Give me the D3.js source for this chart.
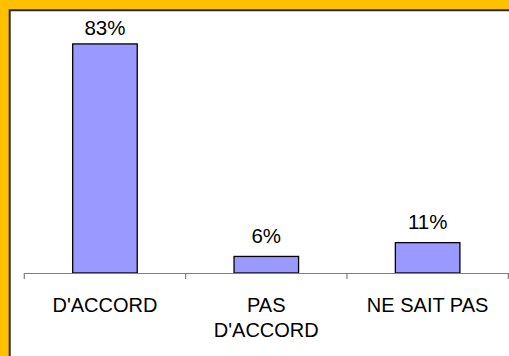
<!DOCTYPE html>
<html><head><meta charset="utf-8">
<script src="https://cdn.jsdelivr.net/npm/d3@7"></script>
<style>html,body{margin:0;padding:0;background:#fff;overflow:hidden}</style>
</head><body>
<svg id="c" width="509" height="356"></svg>
<script>
const categories = [["D'ACCORD"], ["PAS", "D'ACCORD"], ["NE SAIT PAS"]];
const values = [83, 6, 11];
const valueLabels = ["83%", "6%", "11%"];

const W = 509, H = 356;
const svg = d3.select("#c");
svg.append("rect").attr("x",0).attr("y",0).attr("width",W).attr("height",H).attr("fill","#FFC000");
svg.append("rect").attr("x",9.5).attr("y",10.5).attr("width",W).attr("height",H).attr("fill","#fff");
svg.append("path").attr("d",`M9.7,${H} V10.2 H${W}`).attr("fill","none").attr("stroke","#2a2a2a").attr("stroke-width",2);

const plotTop = 20, baseY = 273;
const x = d3.scaleBand().domain(d3.range(values.length)).range([24.3, 508.3]).paddingInner(0.6).paddingOuter(0.3);
const y = d3.scaleLinear().domain([0, 90]).range([baseY, baseY - 90*2.76]);

const g = svg.append("g");
g.selectAll("rect.bar").data(values).join("rect").attr("class","bar")
  .attr("x",(d,i)=>x(i)).attr("width",x.bandwidth())
  .attr("y",d=>y(d)).attr("height",d=>baseY-y(d))
  .attr("fill","#9999FF").attr("stroke","#000").attr("stroke-width",1.3);

// axis
const step = x.step();
const xa = d3.scaleLinear().domain([0, values.length]).range([24.3, 508.3]);
g.append("line").attr("x1",xa(0)).attr("x2",W).attr("y1",baseY+0.5).attr("y2",baseY+0.5).attr("stroke","#7f7f7f").attr("stroke-width",1.2);
g.selectAll("line.tick").data(d3.range(values.length+1)).join("line").attr("class","tick")
  .attr("x1",d=>xa(d)).attr("x2",d=>xa(d)).attr("y1",baseY).attr("y2",baseY+6)
  .attr("stroke","#7f7f7f").attr("stroke-width",1.2);

g.selectAll("text.val").data(values).join("text").attr("class","val")
  .attr("x",(d,i)=>x(i)+x.bandwidth()/2)
  .attr("y",d=>Math.max(y(d)-13.5, plotTop+15))
  .attr("text-anchor","middle").attr("font-family","Liberation Sans, Arial, sans-serif")
  .attr("font-size",20.5).attr("fill","#000").text((d,i)=>valueLabels[i]);

const cl = g.selectAll("text.cat").data(categories).join("text").attr("class","cat")
  .attr("x",(d,i)=>x(i)+x.bandwidth()/2).attr("y",311.5)
  .attr("text-anchor","middle").attr("font-family","Liberation Sans, Arial, sans-serif")
  .attr("font-size",20).attr("fill","#000");
cl.each(function(d,i){
  const t = d3.select(this);
  d.forEach((line,j)=>t.append("tspan").attr("x",x(i)+x.bandwidth()/2).attr("dy",j===0?0:25).text(line));
});
</script>
</body></html>
